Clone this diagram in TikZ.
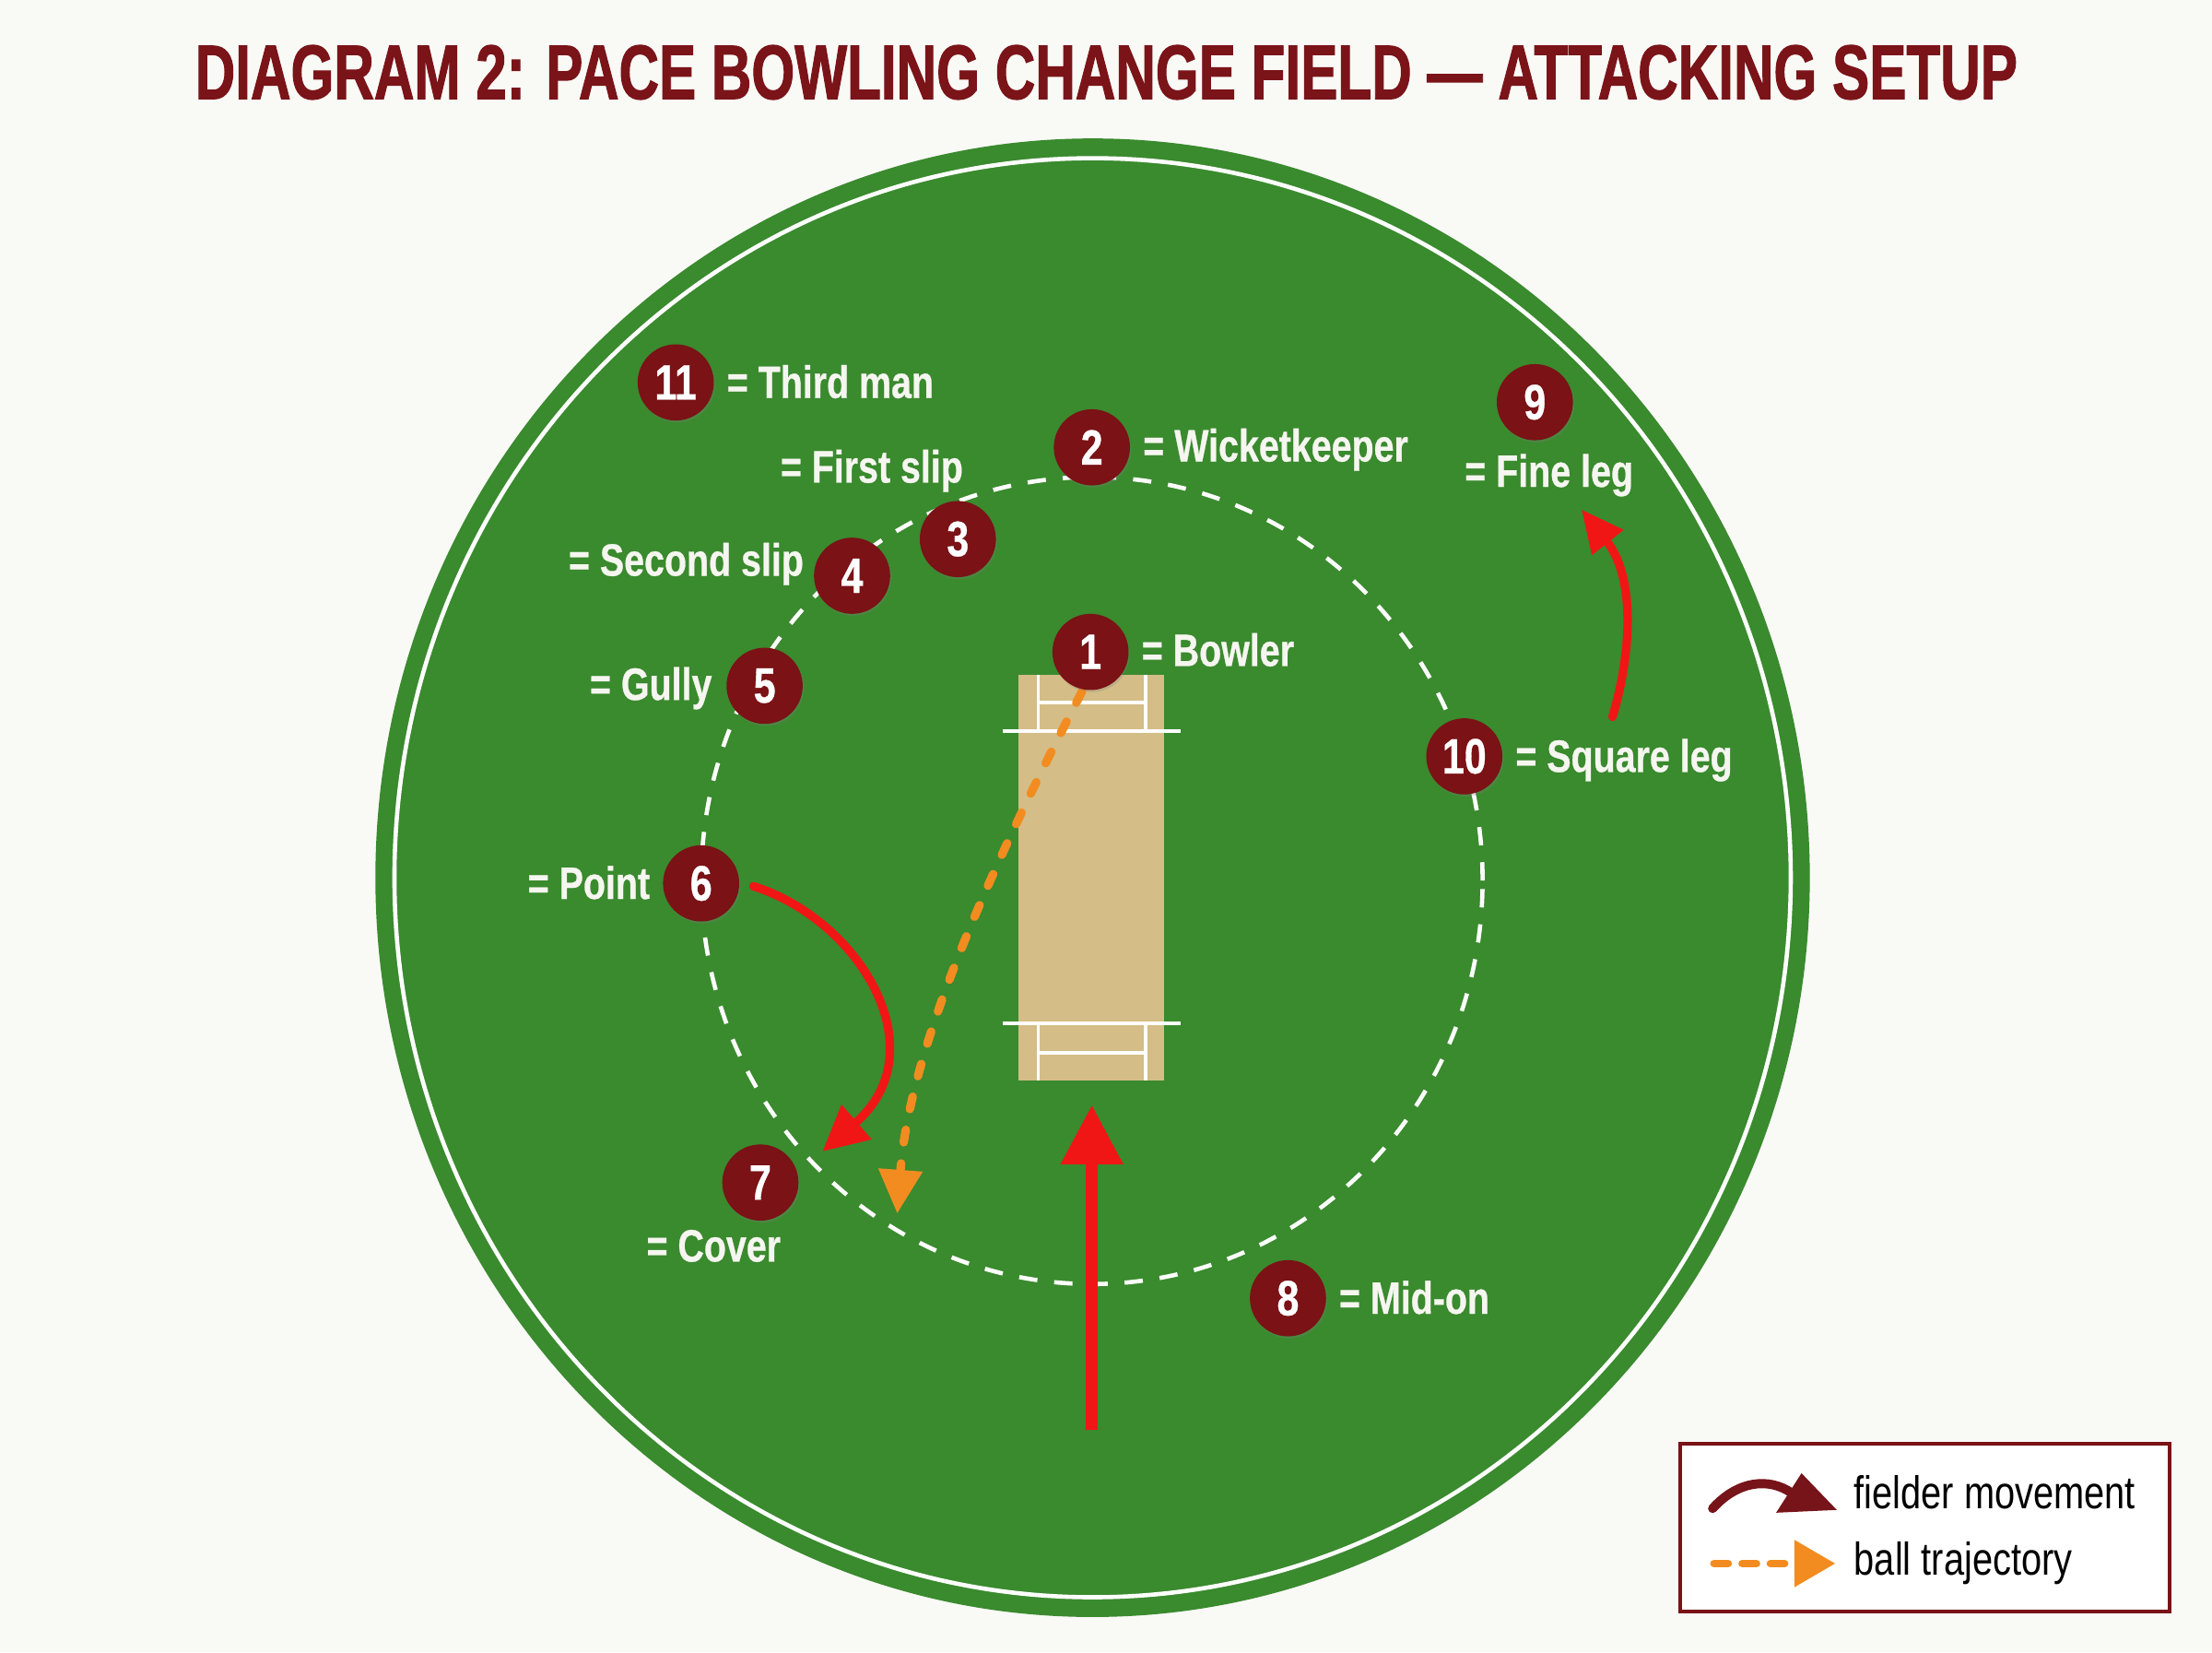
\documentclass[tikz,border=0pt]{standalone}
\usepackage{graphicx}
\usepackage{fontspec}
\setmainfont{Liberation Sans}[FakeStretch=0.8]
\newfontfamily\titlefont{Liberation Sans}[FakeBold=1.6]
\newfontfamily\labfont{Liberation Sans}[FakeStretch=0.8,FakeBold=0.6]
\usetikzlibrary{arrows.meta,shadows}
\definecolor{bgc}{RGB}{249,249,246}
\definecolor{fieldgreen}{RGB}{58,138,46}
\definecolor{maroonc}{RGB}{122,18,22}
\definecolor{titlered}{RGB}{122,20,24}
\definecolor{pitchtan}{RGB}{212,189,134}
\definecolor{arrred}{RGB}{240,22,22}
\definecolor{ballorange}{RGB}{242,140,32}
\definecolor{labwhite}{RGB}{246,246,240}
\definecolor{legmaroon}{RGB}{118,20,26}
\tikzset{
  fielder/.style={circle, fill=maroonc, text=white, minimum size=1.08cm, inner sep=0pt,
    drop shadow={shadow xshift=0.02cm, shadow yshift=-0.03cm, opacity=0.25},
    font=\labfont\bfseries\fontsize{20}{20}\selectfont},
  lab/.style={text=labwhite, inner sep=0pt, font=\labfont\bfseries\fontsize{18.3}{18.3}\selectfont},
  legtext/.style={text=black, inner sep=0pt, font=\fontsize{18.5}{18.5}\selectfont},
  crease/.style={white, line width=0.05cm},
  move/.style={arrred, line width=0.12cm, line cap=round},
  ball/.style={ballorange, line width=0.12cm, line cap=round, dash pattern=on 0.18cm off 0.3cm}
}
\begin{document}
\begin{tikzpicture}[x=0.02cm,y=-0.02cm]
\useasboundingbox (0,0) rectangle (1568,1171);
\fill[bgc] (0,0) rectangle (1568,1171);
% title
\node[anchor=base west, inner sep=0pt, text=titlered] (title) at (138,70)
  {\resizebox{25.84cm}{0.76cm}{\titlefont\bfseries DIAGRAM 2: PACE BOWLING CHANGE FIELD — ATTACKING SETUP}};
% field
\fill[fieldgreen] (774.5,622) ellipse [x radius=10.17cm, y radius=10.48cm];
\draw[white, line width=0.06cm] (774.5,622) ellipse [x radius=9.9cm, y radius=10.2cm];
\draw[white, line width=0.06cm, dash pattern=on 0.26cm off 0.24cm] (774,624) ellipse [x radius=5.54cm, y radius=5.72cm];
% pitch
\node[fill=pitchtan, minimum width=2.06cm, minimum height=5.76cm, inner sep=0pt] (pitch) at (773.5,622) {};
\draw[crease] (711,518) -- (837,518);
\draw[crease] (736,478) -- (736,518);
\draw[crease] (812,478) -- (812,518);
\draw[crease] (736,498) -- (812,498);
\draw[crease] (711,725) -- (837,725);
\draw[crease] (736,725) -- (736,766);
\draw[crease] (812,725) -- (812,766);
\draw[crease] (736,746) -- (812,746);
% coordinates for arrows
\coordinate (ballstart) at (767,490);
\coordinate (ballend) at (636,860);
\coordinate (m6s) at (534,628);
\coordinate (m6e) at (583,816);
\coordinate (m10s) at (1143,508);
\coordinate (m10e) at (1121,361);
\coordinate (bigs) at (774,1013);
\coordinate (bige) at (774,783);
% ball trajectory
\draw[ball, -{Triangle[length=0.62cm,width=0.6cm]}] (ballstart) .. controls (705,610) and (645,740) .. (ballend);
% movements
\draw[move, -{Triangle[length=0.64cm,width=0.62cm]}] (m6s) .. controls (610,652) and (665,745) .. (m6e);
\draw[move, -{Triangle[length=0.6cm,width=0.54cm]}] (m10s) .. controls (1156,465) and (1160,410) .. (m10e);
\draw[arrred, line width=0.17cm, -{Triangle[length=0.84cm,width=0.84cm]}] (bigs) -- (bige);
% fielders
\node[fielder] (f1) at (773,462) {1};
\node[fielder] (f2) at (774,317) {2};
\node[fielder] (f3) at (679,382) {3};
\node[fielder] (f4) at (604,408) {4};
\node[fielder] (f5) at (542,486) {5};
\node[fielder] (f6) at (497,626) {6};
\node[fielder] (f7) at (539,838) {7};
\node[fielder] (f8) at (913,920) {8};
\node[fielder] (f9) at (1088,285) {9};
\node[fielder] (f10) at (1038,536) {10};
\node[fielder] (f11) at (479,271) {11};
% labels
\node[lab, anchor=base west] (l1) at (809,472) {= Bowler};
\node[lab, anchor=base west] (l2) at (810,327) {= Wicketkeeper};
\node[lab, anchor=base east] (l3) at (683,342) {= First slip};
\node[lab, anchor=base east] (l4) at (570,408) {= Second slip};
\node[lab, anchor=base east] (l5) at (505,496) {= Gully};
\node[lab, anchor=base east] (l6) at (461,637) {= Point};
\node[lab, anchor=base west] (l7) at (458,894) {= Cover};
\node[lab, anchor=base west] (l8) at (949,931) {= Mid-on};
\node[lab, anchor=base west] (l9) at (1038,345) {= Fine leg};
\node[lab, anchor=base west] (l10) at (1074,547) {= Square leg};
\node[lab, anchor=base west] (l11) at (515,282) {= Third man};
% legend
\node[draw=maroonc, line width=0.06cm, fill=white, minimum width=6.94cm, minimum height=2.38cm, inner sep=0pt] (legend) at (1364.5,1082.5) {};
\coordinate (lg1s) at (1214,1069);
\coordinate (lg1e) at (1270,1058);
\coordinate (lg2s) at (1215,1108);
\coordinate (lg2e) at (1301,1108);
\draw[legmaroon, line width=0.13cm, line cap=round] (lg1s) .. controls (1232,1049) and (1254,1047) .. (lg1e);
\fill[legmaroon] (1277,1044) -- (1302,1070) -- (1259,1072) -- cycle;
\draw[ballorange, line width=0.11cm, line cap=round, dash pattern=on 0.2cm off 0.2cm, -{Triangle[length=0.58cm,width=0.64cm]}] (lg2s) -- (lg2e);
\node[legtext, anchor=base west] (lt1) at (1314,1069) {fielder movement};
\node[legtext, anchor=base west] (lt2) at (1314,1116) {ball trajectory};
\end{tikzpicture}
\end{document}
